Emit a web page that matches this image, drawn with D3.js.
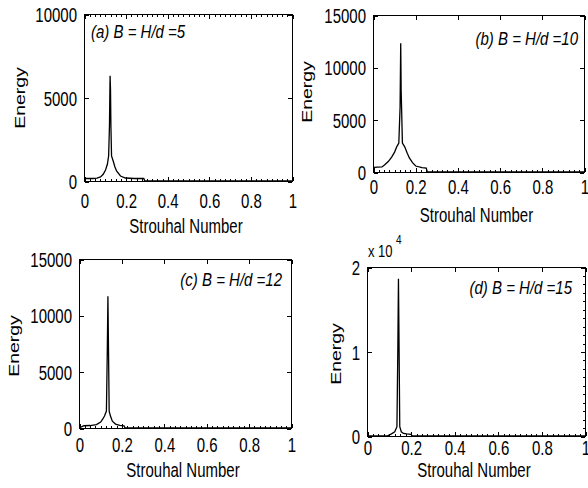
<!DOCTYPE html>
<html><head><meta charset="utf-8">
<script src="https://cdn.jsdelivr.net/npm/d3@7/dist/d3.min.js"></script>
<style>
body{margin:0;background:#fff}
svg{display:block;background:#fff}
text{font-family:"Liberation Sans",Arial,Helvetica,sans-serif;fill:#000}
</style>
</head><body><svg width="588" height="488"></svg>
<script>
// ---------- data ----------
const xTicks = [0, 0.2, 0.4, 0.6, 0.8, 1];
const xTickLabels = ["0", "0.2", "0.4", "0.6", "0.8", "1"];
const titles = ["(a) B = H/d =5", "(b) B = H/d =10", "(c) B = H/d =12", "(d) B = H/d =15"];
const xLabel = "Strouhal Number";
const yLabel = "Energy";

const stA = [0, 0.04, 0.06, 0.077, 0.09, 0.101, 0.11, 0.116, 0.120, 0.123, 0.125, 0.127, 0.130, 0.139, 0.146, 0.154, 0.173, 0.197, 0.24, 0.285, 0.29, 0.4, 0.6, 0.8, 1.0];
const energyA = [150, 150, 170, 240, 400, 660, 1000, 1500, 3300, 6300, 5500, 3300, 1500, 1150, 850, 600, 300, 180, 150, 150, 0, 0, 0, 0, 0];

const stB = [0, 0.04, 0.052, 0.07, 0.086, 0.1, 0.11, 0.12, 0.126, 0.129, 0.131, 0.133, 0.137, 0.148, 0.16, 0.17, 0.185, 0.2, 0.23, 0.25, 0.255, 0.4, 0.6, 0.8, 1.0];
const energyB = [450, 480, 670, 1000, 1430, 1900, 2400, 2770, 6200, 12300, 7800, 6200, 2770, 2400, 1800, 1340, 900, 570, 420, 380, 0, 0, 0, 0, 0];

const stC = [0, 0.02, 0.05, 0.08, 0.1, 0.11, 0.118, 0.127, 0.131, 0.134, 0.137, 0.14, 0.146, 0.155, 0.17, 0.19, 0.21, 0.215, 0.4, 0.6, 0.8, 1.0];
const energyC = [0, 200, 220, 300, 530, 800, 1060, 1500, 6700, 11700, 6700, 1500, 1060, 600, 350, 230, 200, 0, 0, 0, 0, 0];

const stD = [0, 0.09, 0.11, 0.125, 0.135, 0.139, 0.142, 0.145, 0.148, 0.155, 0.165, 0.18, 0.2, 0.205, 0.4, 0.6, 0.8, 1.0];
const energyD = [0, 0, 250, 500, 1100, 10000, 18600, 10000, 1100, 500, 300, 250, 200, 0, 0, 0, 0, 0];

const yMaxes = [10000, 15000, 15000, 20000];
const yTicksA = [0, 5000, 10000];
const yTickLabelsA = ["0", "5000", "10000"];
const yTicksBC = [0, 5000, 10000, 15000];
const yTickLabelsBC = ["0", "5000", "10000", "15000"];
const yTicksD = [0, 10000, 20000];
const yTickLabelsD = ["0", "1", "2"];
const exponentLabel = ["x 10", "4"];

// ---------- layout (pixels) ----------
const layout = [
  {left: 84, right: 292, top: 14, bottom: 181, xTickOff: 27, xlabY: 233, ylabX: 25, ylabCY: 98, tx: 91, ty: 38, anchor: "start", minorTop: true, minorRight: false},
  {left: 373, right: 584, top: 15, bottom: 172, xTickOff: 22, xlabY: 222, ylabX: 312, ylabCY: 92, tx: 578, ty: 45, anchor: "end", minorTop: false, minorRight: false},
  {left: 79, right: 291, top: 259, bottom: 428, xTickOff: 24, xlabY: 477, ylabX: 19, ylabCY: 346, tx: 282, ty: 286, anchor: "end", minorTop: false, minorRight: false},
  {left: 367, right: 585, top: 267, bottom: 436, xTickOff: 19, xlabY: 477, ylabX: 341, ylabCY: 354, tx: 572, ty: 294, anchor: "end", minorTop: false, minorRight: true}
];

const panels = [
  {st: stA, energy: energyA, yMax: yMaxes[0], yTicks: yTicksA, yLabels: yTickLabelsA},
  {st: stB, energy: energyB, yMax: yMaxes[1], yTicks: yTicksBC, yLabels: yTickLabelsBC},
  {st: stC, energy: energyC, yMax: yMaxes[2], yTicks: yTicksBC, yLabels: yTickLabelsBC},
  {st: stD, energy: energyD, yMax: yMaxes[3], yTicks: yTicksD, yLabels: yTickLabelsD}
];

const svg = d3.select("svg");
const FS = 15, SY = 1.3;

function styleAxis(a) {
  a.attr("font-family", null).attr("font-size", null);
  a.select(".domain").remove();
  a.selectAll("line").attr("shape-rendering", "crispEdges").attr("stroke", "#000");
}

panels.forEach((p, i) => {
  const L = layout[i];
  const x = d3.scaleLinear().domain([0, 1]).range([L.left, L.right]);
  const y = d3.scaleLinear().domain([0, p.yMax]).range([L.bottom, L.top]);
  const g = svg.append("g");

  // frame
  g.append("rect")
    .attr("x", x(0) + 0.5).attr("y", y(p.yMax) + 0.5)
    .attr("width", x(1) - x(0)).attr("height", y(0) - y(p.yMax))
    .attr("fill", "none").attr("stroke", "#000").attr("stroke-width", 1)
    .attr("shape-rendering", "crispEdges");

  // minor ticks bottom
  const minor = d3.range(0, 1.0001, 0.025);
  g.append("g").attr("transform", `translate(0.5,${L.bottom})`)
    .call(d3.axisBottom(x).tickValues(minor).tickFormat("").tickSizeInner(-2).tickSizeOuter(0))
    .call(styleAxis);
  if (L.minorTop) {
    g.append("g").attr("transform", `translate(0.5,${L.top + 1})`)
      .call(d3.axisTop(x).tickValues(minor).tickFormat("").tickSizeInner(-2).tickSizeOuter(0))
      .call(styleAxis);
  }
  if (L.minorRight) {
    g.append("g").attr("transform", `translate(${L.right},0.5)`)
      .call(d3.axisRight(y).tickValues(d3.range(0, p.yMax + 1, p.yMax / 20)).tickFormat("").tickSizeInner(-2).tickSizeOuter(0))
      .call(styleAxis);
  }

  // major x ticks bottom with labels
  g.append("g").attr("transform", `translate(0.5,${L.bottom})`)
    .call(d3.axisBottom(x).tickValues(xTicks).tickFormat((d, j) => xTickLabels[j]).tickSizeInner(-4).tickSizeOuter(0))
    .call(styleAxis)
    .call(a => a.selectAll("text")
      .attr("y", null).attr("dy", null)
      .attr("transform", `translate(0,${L.xTickOff}) scale(1,${SY})`)
      .style("font-size", FS + "px").attr("text-anchor", "middle"));
  // top ticks
  g.append("g").attr("transform", `translate(0.5,${L.top + 1})`)
    .call(d3.axisTop(x).tickValues(xTicks).tickFormat("").tickSizeInner(-4).tickSizeOuter(0))
    .call(styleAxis);

  // y ticks left with labels
  g.append("g").attr("transform", `translate(${L.left + 1},0.5)`)
    .call(d3.axisLeft(y).tickValues(p.yTicks).tickFormat((d, j) => p.yLabels[j]).tickSizeInner(-4).tickSizeOuter(0))
    .call(styleAxis)
    .call(a => a.selectAll("text")
      .attr("x", null).attr("dy", null)
      .attr("transform", `translate(-8,7) scale(1,${SY})`)
      .style("font-size", FS + "px").attr("text-anchor", "end"));
  // right ticks
  g.append("g").attr("transform", `translate(${L.right},0.5)`)
    .call(d3.axisRight(y).tickValues(p.yTicks).tickFormat("").tickSizeInner(-4).tickSizeOuter(0))
    .call(styleAxis);

  // curve
  const line = d3.line().x(d => x(d[0]) + 0.5).y(d => y(d[1]));
  g.append("path").datum(d3.zip(p.st, p.energy))
    .attr("d", line).attr("fill", "none").attr("stroke", "#000").attr("stroke-width", 1.3)
    .attr("stroke-linejoin", "miter");

  // labels
  g.append("text")
    .attr("transform", `translate(${(L.left + L.right) / 2 - 2},${L.xlabY}) scale(1,${SY})`)
    .attr("text-anchor", "middle").style("font-size", FS + "px").text(xLabel);
  g.append("text")
    .attr("transform", `translate(${L.ylabX},${L.ylabCY}) scale(1,${SY}) rotate(-90)`)
    .attr("text-anchor", "middle").style("font-size", FS + "px").text(yLabel);
  g.append("text")
    .attr("transform", `translate(${L.tx},${L.ty}) scale(1,1.22)`)
    .attr("text-anchor", L.anchor).style("font-size", FS + "px").style("font-style", "italic")
    .text(titles[i]);

  if (i === 3) {
    g.append("text").attr("transform", `translate(${L.left + 1},257) scale(1,1.2)`)
      .style("font-size", "13px").text(exponentLabel[0]);
    g.append("text").attr("transform", `translate(${L.left + 29},244) scale(1,1.2)`)
      .style("font-size", "10px").text(exponentLabel[1]);
  }
});
</script>
</body></html>
